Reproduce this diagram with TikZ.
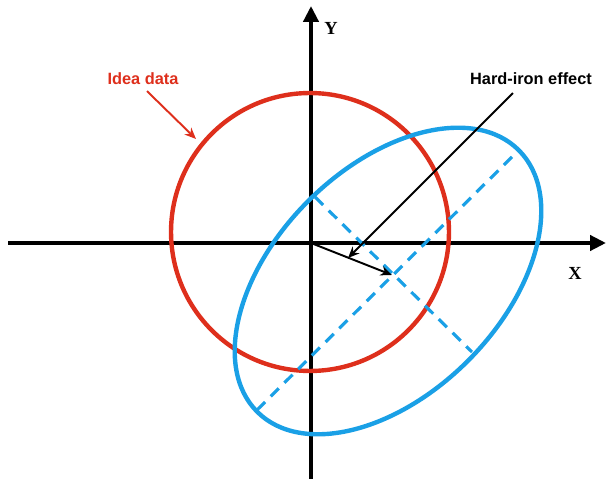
\documentclass[tikz,border=0pt]{standalone}
\usepackage{fontspec}
\setmainfont{Liberation Serif}
\setsansfont{Liberation Sans}
\usetikzlibrary{arrows.meta}
\definecolor{Ink}{HTML}{000000}
\definecolor{IdealRed}{HTML}{DE2F1C}
\definecolor{SkyBlue}{HTML}{1AA0E6}

\begin{document}
\begin{tikzpicture}[
  x=0.02cm, y=-0.02cm,
  axis/.style={line width=2.2pt, draw=Ink, -{Triangle[length=9pt, width=8.5pt]}},
  pointer/.style={line width=1.1pt, draw=Ink, -{Stealth[length=6.5pt, width=5.5pt]}},
  tag/.style={font=\sffamily\bfseries\fontsize{9.3}{11}\selectfont, inner sep=1pt},
  axislabel/.style={font=\bfseries\fontsize{10.5}{12}\selectfont, inner sep=1pt},
  ideal/.style={line width=2.5pt, draw=IdealRed},
  measured/.style={line width=2.5pt, draw=SkyBlue},
  principal/.style={line width=1.8pt, draw=SkyBlue, dash pattern=on 6.5pt off 4.5pt}
]
\useasboundingbox (0,0) rectangle (606,479);

% axes
\coordinate (origin) at (311,243);
\coordinate (xstart) at (8,243);
\coordinate (xend) at (606,243);
\coordinate (ystart) at (311,479);
\coordinate (yend) at (311,6);
\draw[axis] (xstart) -- (xend);
\draw[axis] (ystart) -- (yend);
\node[axislabel] (xlab) at (575,273) {X};
\node[axislabel] (ylab) at (331,28) {Y};

% ideal data: circle round the origin
\coordinate (circlecentre) at (310,232);
\draw[ideal] (circlecentre) circle[radius=2.78cm];

% measured data: shifted, tilted ellipse
\coordinate (ellcentre) at (388,281);
\draw[measured, rotate around={45:(ellcentre)}] (ellcentre) ellipse[x radius=3.70cm, y radius=2.26cm];
\coordinate (majorA) at (257,410);
\coordinate (majorB) at (519,150);
\coordinate (minorA) at (315,197);
\coordinate (minorB) at (472,352);
\draw[principal] (majorA) -- (majorB);
\draw[principal] (minorA) -- (minorB);

% offset vector
\coordinate (offset) at (392,275);
\draw[pointer] (origin) -- (offset);

% labels
\node[tag, text=IdealRed] (idea) at (143,79) {Idea data};
\coordinate (ideatip) at (196,139);
\draw[pointer, draw=IdealRed, fill=IdealRed] (idea.south) ++(4,4) -- (ideatip);

\node[tag] (hardiron) at (531,79) {Hard-iron effect};
\coordinate (hardtip) at (348,258);
\draw[pointer] (hardiron.south) ++(-18,6) -- (hardtip);
\end{tikzpicture}
\end{document}
